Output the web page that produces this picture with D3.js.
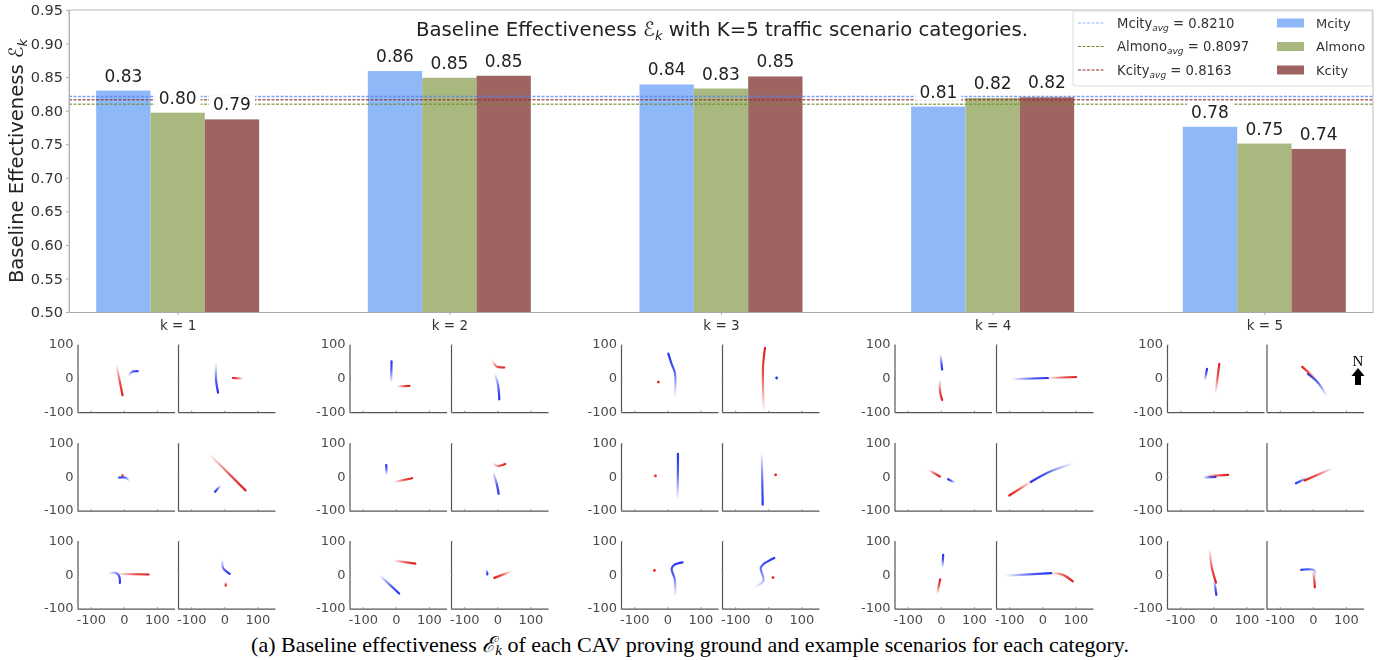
<!DOCTYPE html>
<html>
<head>
<meta charset="utf-8">
<script src="https://cdn.jsdelivr.net/npm/d3@7"></script>
<style>
html, body { margin:0; padding:0; background:white; }
svg { display:block; }
text { font-family:"DejaVu Sans", sans-serif; }
.serif { font-family:"Liberation Serif", serif; }
.soft { filter:blur(0.6px); }
</style>
</head>
<body>
<div id="fig"></div>
<script>
//bar chart values
var categories = ["k = 1", "k = 2", "k = 3", "k = 4", "k = 5"];
var grounds = ["Mcity", "Almono", "Kcity"];
var mcity = [0.830, 0.859, 0.839, 0.806, 0.776];
var almono = [0.797, 0.849, 0.833, 0.819, 0.751];
var kcity = [0.787, 0.852, 0.851, 0.820, 0.743];
var averages = [0.8210, 0.8097, 0.8163];
var yTicks = [0.50, 0.55, 0.60, 0.65, 0.70, 0.75, 0.80, 0.85, 0.90, 0.95];
var panelTicks = [-100, 0, 100];

//example scenarios, six panels per category (row by row)
//each track is read from its faded tail to its solid head
var scenariosK1 = [
    {red:[[-22,38],[-4,-50]], blue:[[14,8],[24,19],[42,21]]},
    {red:[[55,-1],[26,1]], blue:[[-25,42],[-25,-5],[-19,-42]]},
    {red:[[-4,10],[-4,3]], blue:[[17,-12],[7,-3],[-14,-2]]},
    {red:[[-42,64],[64,-40]], blue:[[-12,-26],[-28,-44]]},
    {red:[[-16,3],[75,1]], blue:[[-45,5],[-21,5],[-13,-7],[-12,-24]]},
    {red:[[4,-22],[4,-32]], blue:[[-6,43],[-4,21],[16,3]]}
];
var scenariosK2 = [
    {red:[[5,-24],[41,-22]], blue:[[-14,-10],[-13,50]]},
    {red:[[-15,53],[-4,36],[21,32]], blue:[[-7,13],[2,-20],[6,-62]]},
    {red:[[-4,-15],[49,-4]], blue:[[-28,7],[-29,35]]},
    {red:[[-13,38],[1,32],[24,38]], blue:[[-12,12],[-2,-20],[4,-50]]},
    {red:[[-5,42],[59,33]], blue:[[-47,-3],[10,-55]]},
    {red:[[41,10],[-9,-9]], blue:[[-32,15],[-30,1]]}
];
var scenariosK3 = [
    {red:[[-27,-11]], blue:[[23,-50],[23,15],[12,45],[3,73]]},
    {red:[[-14,-93],[-16,35],[-10,90]], blue:[[25,1]]},
    {red:[[-36,3]], blue:[[31,-63],[32,30],[32,68]]},
    {red:[[22,6]], blue:[[-20,70],[-17,-82]]},
    {red:[[-39,13]], blue:[[24,-59],[22,-12],[13,18],[22,30],[46,37]]},
    {red:[[14,-8]], blue:[[-38,-35],[-15,-17],[-23,21],[-13,33],[18,50]]}
];
var scenariosK4 = [
    {red:[[-3,-6],[-2,-41],[4,-64]], blue:[[-1,69],[4,26]]},
    {red:[[17,1],[102,4]], blue:[[-88,-2],[17,1]]},
    {red:[[-36,20],[-3,1]], blue:[[42,-17],[22,-7]]},
    {red:[[-35,-15],[-100,-55]], blue:[[87,38],[22,15],[-35,-15]]},
    {red:[[-11,-55],[-2,-13]], blue:[[5,23],[7,59]]},
    {red:[[27,5],[62,0],[92,-19]], blue:[[-108,-2],[27,5]]}
];
var scenariosK5 = [
    {red:[[7,-41],[18,43]], blue:[[-26,-5],[-19,28]]},
    {red:[[8,-1],[-32,34]], blue:[[41,-50],[13,-10],[-15,13]]},
    {red:[[-22,2],[45,6]], blue:[[-30,-2],[7,0]]},
    {red:[[56,24],[-25,-11]], blue:[[-17,-3],[-51,-19]]},
    {red:[[-11,75],[-5,23],[8,-23]], blue:[[3,-17],[9,-59]]},
    {red:[[0,11],[4,-12],[6,-37]], blue:[[8,-7],[5,13],[-35,15]]}
];

var screen = {width:1396, height:660};
var barColors = ["#8fb8f9", "#a9b87f", "#9e6461"];
var avgColors = ["#4f80f0", "#6f8f2f", "#8f2f2f"];
var trackColors = {red:"#e0201c", blue:"#2233ee"};

var svg = d3.select("#fig")
    .append("svg")
    .attr("width", screen.width)
    .attr("height", screen.height);

var defs = svg.append("defs");
var fig = svg.append("g").classed("soft", true);

//---- bar chart on top ----
var createBars = function() {
    var margins = {left:69, right:1373, top:10, bottom:312};
    var series = [mcity, almono, kcity];

    var xScale = d3.scaleLinear()
        .domain([-0.4, categories.length - 0.6])
        .range([margins.left, margins.right]);
    var yScale = d3.scaleLinear()
        .domain([0.5, 0.95])
        .range([margins.bottom, margins.top]);
    var barWidth = xScale(0.2) - xScale(0);

    var g = fig.append("g");

    //bars
    series.forEach(function(values, s) {
        g.selectAll(".bar" + s)
            .data(values)
            .enter()
            .append("rect")
            .attr("x", function(d, i) { return xScale(i + (s - 1) * 0.2 - 0.1); })
            .attr("y", function(d) { return yScale(d); })
            .attr("width", barWidth)
            .attr("height", function(d) { return margins.bottom - yScale(d); })
            .attr("fill", barColors[s]);
    });

    //average lines go over the bars
    g.selectAll(".avg")
        .data(averages)
        .enter()
        .append("line")
        .attr("x1", margins.left)
        .attr("x2", margins.right)
        .attr("y1", function(d) { return yScale(d); })
        .attr("y2", function(d) { return yScale(d); })
        .attr("stroke", function(d, i) { return avgColors[i]; })
        .attr("stroke-width", 1.5)
        .attr("stroke-dasharray", "3,1.5")
        .attr("opacity", 0.75);

    //value labels have a white box behind them
    var fmt = d3.format(".2f");
    series.forEach(function(values, s) {
        var labels = g.selectAll(".label" + s)
            .data(values)
            .enter()
            .append("g")
            .attr("transform", function(d, i) {
                return "translate(" + xScale(i + (s - 1) * 0.2) + "," + (yScale(d) - 9) + ")";
            });
        labels.append("rect")
            .attr("x", -23)
            .attr("y", -15)
            .attr("width", 46)
            .attr("height", 18)
            .attr("fill", "white");
        labels.append("text")
            .attr("text-anchor", "middle")
            .attr("font-size", 17)
            .attr("fill", "#222")
            .text(fmt);
    });

    //axes
    var xAxis = d3.axisBottom(xScale)
        .tickValues(d3.range(categories.length))
        .tickFormat(function(d) { return categories[d]; })
        .tickSize(3)
        .tickSizeOuter(0);
    var yAxis = d3.axisLeft(yScale)
        .tickValues(yTicks)
        .tickFormat(d3.format(".2f"))
        .tickSize(3)
        .tickSizeOuter(0);

    var xG = g.append("g")
        .attr("transform", "translate(0," + margins.bottom + ")")
        .call(xAxis);
    xG.selectAll("text").attr("font-size", 13.5).attr("fill", "#333").attr("dy", "0.9em");
    var yG = g.append("g")
        .attr("transform", "translate(" + margins.left + ",0)")
        .call(yAxis);
    yG.selectAll("text").attr("font-size", 14.5).attr("fill", "#333");
    g.selectAll(".domain, .tick line").attr("stroke", "#aaa");

    //top and right spines
    g.append("path")
        .attr("d", d3.line()([[margins.left, margins.bottom], [margins.left, margins.top],
                              [margins.right, margins.top], [margins.right, margins.bottom]]))
        .attr("fill", "none")
        .attr("stroke", "#bbb");

    //y label
    var yLabel = g.append("text")
        .attr("transform", "translate(23,161) rotate(-90)")
        .attr("text-anchor", "middle")
        .attr("font-size", 19.5)
        .attr("fill", "#222");
    yLabel.append("tspan").text("Baseline Effectiveness ");
    yLabel.append("tspan").attr("font-style", "italic").text("\u2130");
    yLabel.append("tspan").attr("font-style", "italic").attr("font-size", 13).attr("dy", 4).text("k");

    //title
    var title = g.append("text")
        .attr("x", 722)
        .attr("y", 36)
        .attr("text-anchor", "middle")
        .attr("font-size", 19.7)
        .attr("fill", "#222");
    title.append("tspan").text("Baseline Effectiveness ");
    title.append("tspan").attr("font-style", "italic").text("\u2130");
    title.append("tspan").attr("font-style", "italic").attr("font-size", 13).attr("dy", 4).text("k");
    title.append("tspan").attr("dy", -4).text(" with K=5 traffic scenario categories.");

    createLegend(g);
}

var createLegend = function(g) {
    var legend = g.append("g");
    legend.append("rect")
        .attr("x", 1073)
        .attr("y", 11)
        .attr("width", 299)
        .attr("height", 75)
        .attr("rx", 2)
        .attr("fill", "white")
        .attr("stroke", "#ddd");

    var rowY = d3.scalePoint().domain(grounds).range([23, 70]);
    var avgText = d3.format(".4f");

    grounds.forEach(function(name, i) {
        var y = rowY(name);
        legend.append("line")
            .attr("x1", 1078)
            .attr("x2", 1105)
            .attr("y1", y)
            .attr("y2", y)
            .attr("stroke", i == 0 ? barColors[0] : avgColors[i])
            .attr("stroke-dasharray", "3,1.5");
        var t = legend.append("text")
            .attr("x", 1117)
            .attr("y", y + 4.5)
            .attr("font-size", 13.2)
            .attr("fill", "#333");
        t.append("tspan").text(name);
        t.append("tspan").attr("font-size", 9).attr("font-style", "italic").attr("dy", 3).text("avg");
        t.append("tspan").attr("dy", -3).text(" = " + avgText(averages[i]));

        legend.append("rect")
            .attr("x", 1277)
            .attr("y", y - 4.5)
            .attr("width", 27)
            .attr("height", 9)
            .attr("fill", barColors[i]);
        legend.append("text")
            .attr("x", 1316)
            .attr("y", y + 4.5)
            .attr("font-size", 13)
            .attr("fill", "#333")
            .text(name);
    });
}

//---- small panels with the scenario tracks ----
var gradCount = 0;
var drawTrack = function(g, points, color, xScale, yScale) {
    if(points.length == 1) {
        //vehicle that hardly moves, just a dot
        g.append("circle")
            .attr("cx", xScale(points[0][0]))
            .attr("cy", yScale(points[0][1]))
            .attr("r", 1.4)
            .attr("fill", color);
        return;
    }
    var first = points[0];
    var last = points[points.length - 1];
    var id = "fade" + (gradCount++);
    var grad = defs.append("linearGradient")
        .attr("id", id)
        .attr("gradientUnits", "userSpaceOnUse")
        .attr("x1", xScale(first[0]))
        .attr("y1", yScale(first[1]))
        .attr("x2", xScale(last[0]))
        .attr("y2", yScale(last[1]));
    grad.append("stop").attr("offset", 0).attr("stop-color", color).attr("stop-opacity", 0.05);
    grad.append("stop").attr("offset", 0.6).attr("stop-color", color).attr("stop-opacity", 0.8);
    grad.append("stop").attr("offset", 1).attr("stop-color", color).attr("stop-opacity", 1);

    var line = d3.line()
        .x(function(d) { return xScale(d[0]); })
        .y(function(d) { return yScale(d[1]); })
        .curve(d3.curveCatmullRom.alpha(0.5));
    g.append("path")
        .attr("d", line(points))
        .attr("fill", "none")
        .attr("stroke", "url(#" + id + ")")
        .attr("stroke-width", 2.2)
        .attr("stroke-linecap", "round");
}

var createPanel = function(panel, left, top, showY, showX) {
    var width = 97;
    var height = 67.7;
    var xScale = d3.scaleLinear().domain([-140, 153]).range([left, left + width]);
    var yScale = d3.scaleLinear().domain([-100, 100]).range([top + height, top]);
    var label = function(d) { return String(d); };

    var g = fig.append("g");

    var xAxis = d3.axisBottom(xScale)
        .tickValues(panelTicks)
        .tickFormat(showX ? label : "")
        .tickSize(-1.5)
        .tickPadding(6)
        .tickSizeOuter(0);
    var yAxis = d3.axisLeft(yScale)
        .tickValues(panelTicks)
        .tickFormat(showY ? label : "")
        .tickSize(-1.5)
        .tickPadding(4)
        .tickSizeOuter(0);

    var xG = g.append("g").attr("transform", "translate(0," + (top + height) + ")").call(xAxis);
    var yG = g.append("g").attr("transform", "translate(" + left + ",0)").call(yAxis);
    yG.selectAll("text").attr("dy", "0.25em");
    g.selectAll(".domain").attr("stroke", "#555").attr("stroke-width", 1.2);
    g.selectAll(".tick line").attr("stroke", "#888");
    g.selectAll("text").attr("font-size", 13).attr("fill", "#4a4a4a");

    drawTrack(g, panel.blue, trackColors.blue, xScale, yScale);
    drawTrack(g, panel.red, trackColors.red, xScale, yScale);
}

var createScenarios = function() {
    var groups = [scenariosK1, scenariosK2, scenariosK3, scenariosK4, scenariosK5];
    //left edge of the two panels in each group
    var lefts = [[77.5, 178], [349.5, 451], [621, 722], [894.5, 996], [1167, 1266.5]];
    var tops = [344.5, 443, 541];

    groups.forEach(function(group, c) {
        group.forEach(function(panel, i) {
            var row = Math.floor(i / 2);
            var col = i % 2;
            createPanel(panel, lefts[c][col], tops[row], col == 0, row == 2);
        });
    });
}

//north arrow in the top right panel, sharp like the caption
var createNorth = function() {
    var g = svg.append("g").attr("transform", "translate(1358,0)");
    g.append("text")
        .classed("serif", true)
        .attr("y", 366)
        .attr("text-anchor", "middle")
        .attr("font-size", 15)
        .attr("fill", "black")
        .text("N");
    g.append("path")
        .attr("d", "M0,368 L6.5,376 L3,376 L3,385 L-3,385 L-3,376 L-6.5,376 Z")
        .attr("fill", "black");
}

var createCaption = function() {
    var t = svg.append("text")
        .classed("serif", true)
        .attr("x", 690)
        .attr("y", 652)
        .attr("text-anchor", "middle")
        .attr("font-size", 22)
        .attr("fill", "black");
    t.append("tspan").text("(a) Baseline effectiveness ");
    t.append("tspan").attr("font-style", "italic").text("\u2130");
    t.append("tspan").attr("font-style", "italic").attr("font-size", 15).attr("dy", 3).text("k");
    t.append("tspan").attr("dy", -3).text(" of each CAV proving ground and example scenarios for each category.");
}

createBars();
createScenarios();
createNorth();
createCaption();
</script>
</body>
</html>
